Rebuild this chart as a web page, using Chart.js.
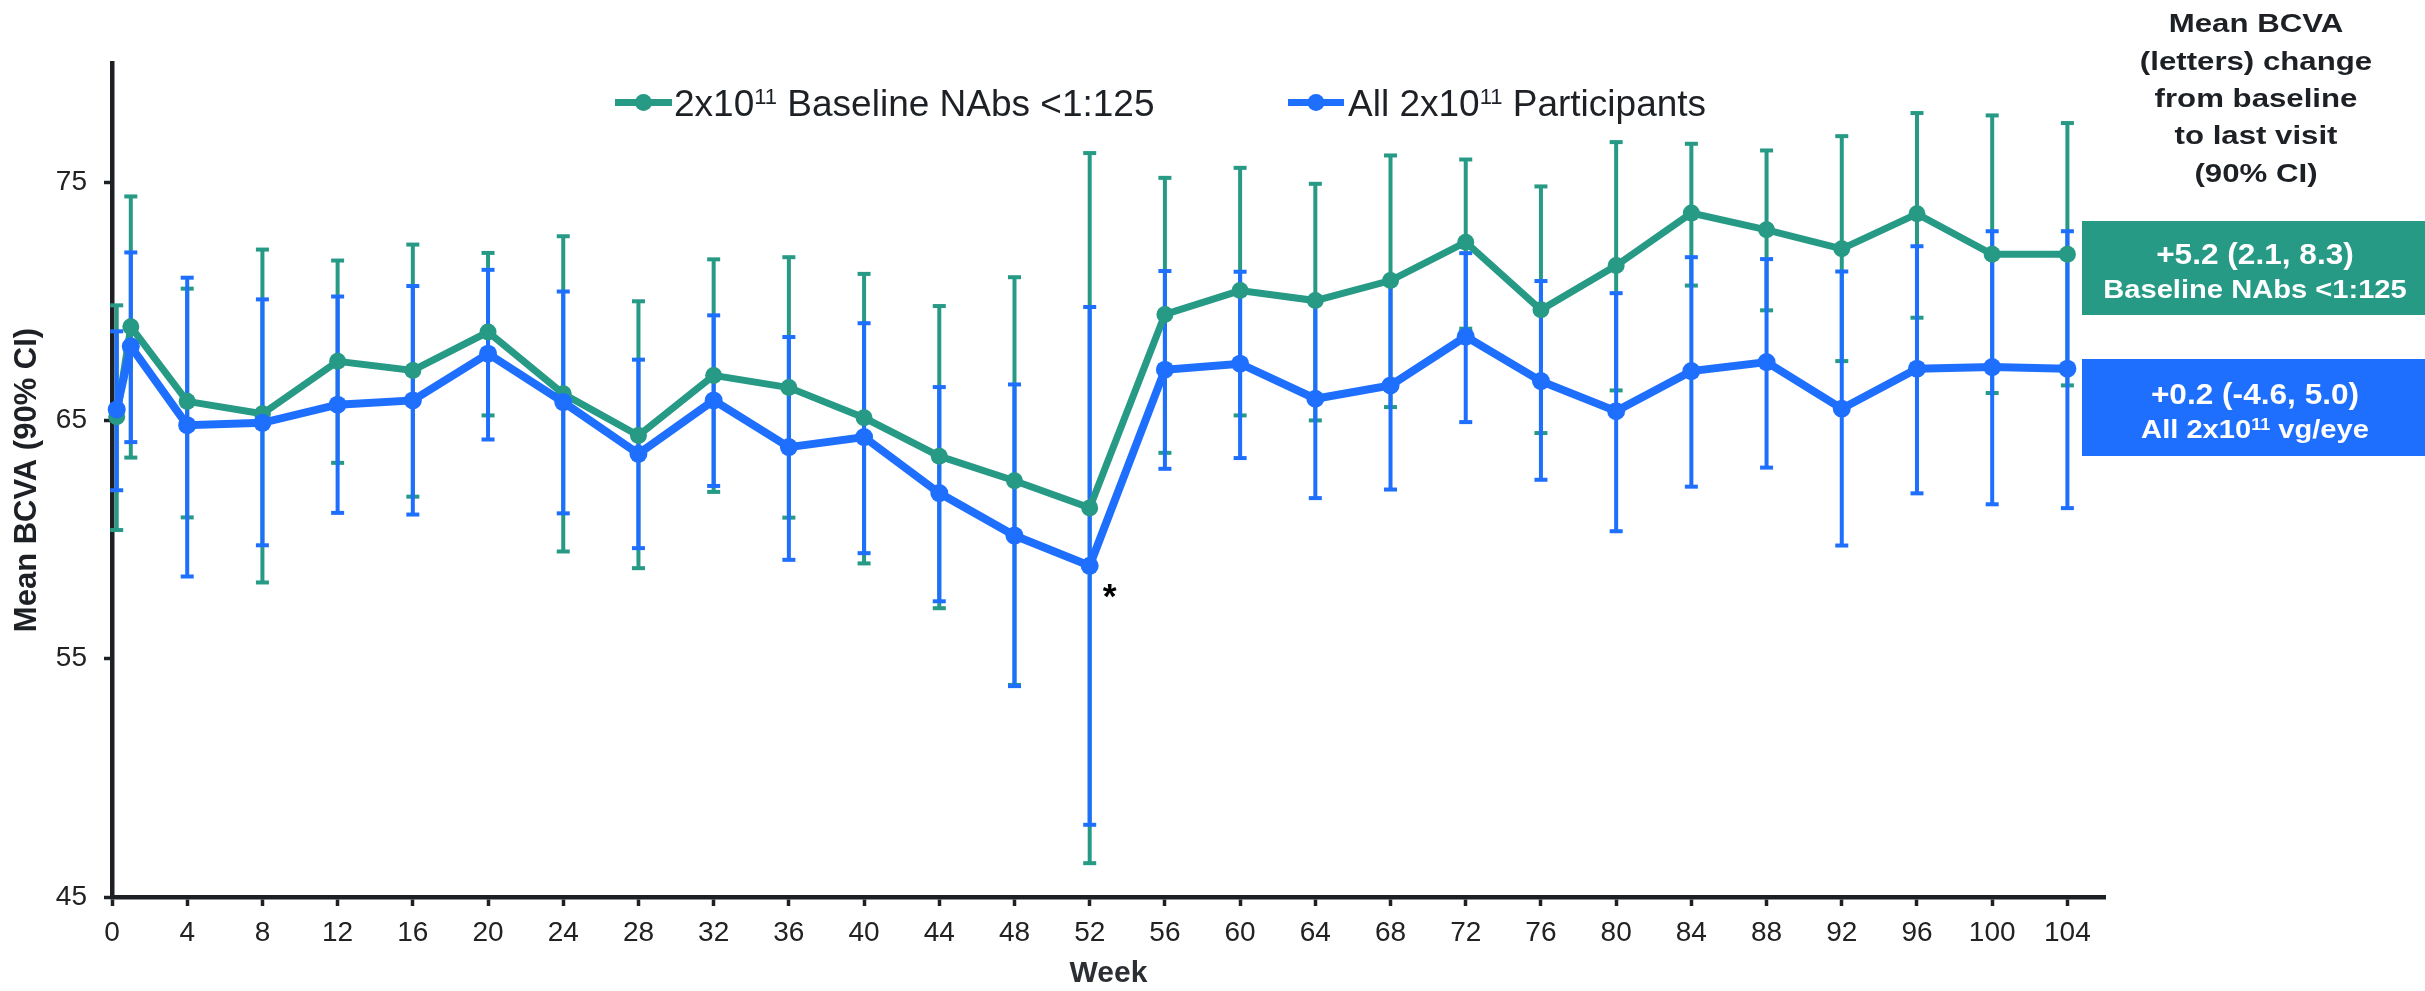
<!DOCTYPE html>
<html>
<head>
<meta charset="utf-8">
<script src="https://cdn.jsdelivr.net/npm/chart.js@4.4.1/dist/chart.umd.min.js"></script>
<style>
html,body{margin:0;padding:0;background:#ffffff;}
#c{display:block;}
</style>
</head>
<body>
<canvas id="c" width="2425" height="991"></canvas>
<script>
// ---------- data ----------
const weeks = [0.25, 1, 4, 8, 12, 16, 20, 24, 28, 32, 36, 40, 44, 48, 52, 56, 60, 64, 68, 72, 76, 80, 84, 88, 92, 96, 100, 104];

const greenMean = [65.15, 68.93, 65.8, 65.28, 67.48, 67.1, 68.71, 66.12, 64.37, 66.89, 66.38, 65.11, 63.5, 62.47, 61.33, 69.45, 70.45, 70.03, 70.87, 72.48, 69.64, 71.5, 73.7, 73.0, 72.2, 73.67, 71.97, 71.97];
const greenLow  = [60.4, 63.44, 60.93, 58.2, 63.22, 61.8, 65.21, 59.5, 58.8, 62.0, 60.92, 59.0, 57.12, 53.9, 46.42, 63.64, 65.21, 65.0, 65.56, 68.85, 64.47, 66.26, 70.66, 69.62, 67.49, 69.31, 66.15, 66.47];
const greenHigh = [69.83, 74.4, 70.53, 72.17, 71.71, 72.38, 72.03, 72.73, 70.0, 71.76, 71.85, 71.15, 69.8, 71.01, 76.22, 75.18, 75.6, 74.93, 76.12, 75.95, 74.82, 76.68, 76.61, 76.33, 76.93, 77.9, 77.8, 77.48];

const blueMean = [65.46, 68.11, 64.8, 64.9, 65.66, 65.84, 67.8, 65.77, 63.6, 65.84, 63.88, 64.3, 61.95, 60.17, 58.9, 67.13, 67.38, 65.91, 66.47, 68.52, 66.65, 65.39, 67.07, 67.45, 65.49, 67.17, 67.24, 67.17];
const blueLow  = [62.07, 64.09, 58.45, 59.76, 61.12, 61.05, 64.2, 61.1, 59.64, 62.25, 59.15, 59.43, 57.41, 53.85, 48.03, 62.97, 63.42, 61.74, 62.1, 64.93, 62.51, 60.35, 62.22, 63.02, 59.75, 61.94, 61.48, 61.32];
const blueHigh = [68.74, 72.05, 70.99, 70.08, 70.2, 70.64, 71.32, 70.41, 67.55, 69.41, 68.5, 69.08, 66.4, 66.51, 69.76, 71.27, 71.24, 70.08, 70.84, 72.02, 70.85, 70.34, 71.85, 71.77, 71.25, 72.31, 72.94, 72.94];

const xTickValues = [0, 4, 8, 12, 16, 20, 24, 28, 32, 36, 40, 44, 48, 52, 56, 60, 64, 68, 72, 76, 80, 84, 88, 92, 96, 100, 104];
const yTickValues = [45, 55, 65, 75];

const greenLabelParts = ['2x10', '11', ' Baseline NAbs <1:125'];
const blueLabelParts = ['All 2x10', '11', ' Participants'];
const sideTitle = ['Mean BCVA', '(letters) change', 'from baseline', 'to last visit', '(90% CI)'];
const greenBox = ['+5.2 (2.1, 8.3)', 'Baseline NAbs <1:125'];
const blueBox = ['+0.2 (-4.6, 5.0)', 'All 2x10', '11', ' vg/eye'];
const starWeek = 52;

// ---------- styles ----------
const GREEN = '#279A86';
const BLUE = '#1F6FFF';
const INK = '#1d2126';
const FAM = '"Liberation Sans", Arial, Helvetica, sans-serif';

Chart.defaults.font.family = FAM;
Chart.defaults.color = INK;

function drawRich(ctx, parts, x, baseline, align, scaleX, color) {
  ctx.save();
  let total = 0;
  parts.forEach(p => { ctx.font = p.font; p.w = ctx.measureText(p.text).width; total += p.w; });
  const start = align === 'center' ? x - total * scaleX / 2 : x;
  ctx.translate(start, baseline);
  ctx.scale(scaleX, 1);
  ctx.fillStyle = color;
  ctx.textAlign = 'left';
  ctx.textBaseline = 'alphabetic';
  let cx = 0;
  parts.forEach(p => { ctx.font = p.font; ctx.fillText(p.text, cx, p.dy || 0); cx += p.w; });
  ctx.restore();
}

const errorBars = {
  id: 'errorBars',
  beforeDatasetsDraw(chart) {
    const {ctx, scales: {x, y}} = chart;
    const series = [
      {low: greenLow, high: greenHigh, color: GREEN},
      {low: blueLow, high: blueHigh, color: BLUE}
    ];
    ctx.save();
    series.forEach(s => {
      ctx.strokeStyle = s.color;
      ctx.fillStyle = s.color;
      ctx.lineWidth = 4;
      weeks.forEach((w, i) => {
        const px = x.getPixelForValue(w);
        const y1 = y.getPixelForValue(s.low[i]);
        const y2 = y.getPixelForValue(s.high[i]);
        ctx.beginPath();
        ctx.moveTo(px, y1);
        ctx.lineTo(px, y2);
        ctx.stroke();
        ctx.fillRect(px - 6.5, y1 - 2, 13, 4);
        ctx.fillRect(px - 6.5, y2 - 2, 13, 4);
      });
    });
    ctx.restore();
  }
};

const annotations = {
  id: 'annotations',
  afterDraw(chart) {
    const {ctx, scales: {x, y}} = chart;
    ctx.save();
    // legend
    const legendItems = [
      {parts: greenLabelParts, color: GREEN, x0: 615, x1: 672, tx: 674},
      {parts: blueLabelParts, color: BLUE, x0: 1288, x1: 1344, tx: 1348}
    ];
    legendItems.forEach(it => {
      const ly = 102.5;
      ctx.strokeStyle = it.color;
      ctx.lineWidth = 7;
      ctx.beginPath(); ctx.moveTo(it.x0, ly); ctx.lineTo(it.x1, ly); ctx.stroke();
      ctx.fillStyle = it.color;
      ctx.beginPath(); ctx.arc((it.x0 + it.x1) / 2, ly, 8.5, 0, Math.PI * 2); ctx.fill();
      drawRich(ctx, [
        {text: it.parts[0], font: '37px ' + FAM},
        {text: it.parts[1], font: '22px ' + FAM, dy: -12.2},
        {text: it.parts[2], font: '37px ' + FAM}
      ], it.tx, 115.7, 'left', 1, INK);
    });

    // side title
    const baselines = [32.3, 69.6, 106.9, 144.2, 181.5];
    sideTitle.forEach((t, i) => {
      drawRich(ctx, [{text: t, font: 'bold 26px ' + FAM}], 2256, baselines[i], 'center', 1.2, INK);
    });

    // boxes
    ctx.fillStyle = GREEN;
    ctx.fillRect(2082, 221, 343, 94);
    ctx.fillStyle = BLUE;
    ctx.fillRect(2082, 359, 343, 97);
    drawRich(ctx, [{text: greenBox[0], font: 'bold 29px ' + FAM}], 2255, 264, 'center', 1.09, '#ffffff');
    drawRich(ctx, [{text: greenBox[1], font: 'bold 26px ' + FAM}], 2255, 297.7, 'center', 1.12, '#ffffff');
    drawRich(ctx, [{text: blueBox[0], font: 'bold 29px ' + FAM}], 2255, 404, 'center', 1.09, '#ffffff');
    drawRich(ctx, [
      {text: blueBox[1], font: 'bold 26px ' + FAM},
      {text: blueBox[2], font: 'bold 16px ' + FAM, dy: -7.5},
      {text: blueBox[3], font: 'bold 26px ' + FAM}
    ], 2255, 437.7, 'center', 1.12, '#ffffff');

    // asterisk next to week 52 point
    const idx = weeks.indexOf(starWeek);
    const sx = x.getPixelForValue(starWeek) + 20;
    const sy = y.getPixelForValue(blueMean[idx]) + 25;
    ctx.font = 'bold 100px ' + FAM;
    const m = ctx.measureText('*');
    const h100 = m.actualBoundingBoxAscent + m.actualBoundingBoxDescent;
    const fs = 13.5 / h100 * 100;
    ctx.font = 'bold ' + fs.toFixed(1) + 'px ' + FAM;
    const m2 = ctx.measureText('*');
    ctx.fillStyle = '#000000';
    ctx.textAlign = 'center';
    ctx.textBaseline = 'alphabetic';
    ctx.fillText('*', sx, sy + (m2.actualBoundingBoxAscent - m2.actualBoundingBoxDescent) / 2);
    ctx.restore();
  }
};

new Chart(document.getElementById('c'), {
  type: 'line',
  data: {
    datasets: [
      {
        label: 'All 2x10^11 Participants',
        data: weeks.map((w, i) => ({x: w, y: blueMean[i]})),
        borderColor: BLUE,
        backgroundColor: BLUE,
        pointBackgroundColor: BLUE,
        borderWidth: 8,
        pointRadius: 9,
        pointBorderWidth: 0,
        pointHoverRadius: 9,
        tension: 0,
        clip: false,
        order: 1
      },
      {
        label: '2x10^11 Baseline NAbs <1:125',
        data: weeks.map((w, i) => ({x: w, y: greenMean[i]})),
        borderColor: GREEN,
        backgroundColor: GREEN,
        pointBackgroundColor: GREEN,
        borderWidth: 7,
        pointRadius: 8.5,
        pointBorderWidth: 0,
        pointHoverRadius: 8.5,
        tension: 0,
        clip: false,
        order: 2
      }
    ]
  },
  options: {
    responsive: false,
    devicePixelRatio: 1,
    animation: false,
    events: [],
    layout: {padding: {left: 0, top: 63, right: 320, bottom: 0}},
    plugins: {
      legend: {display: false},
      tooltip: {enabled: false},
      title: {display: false}
    },
    scales: {
      x: {
        type: 'linear',
        min: 0,
        max: 106,
        afterBuildTicks: s => { s.ticks = xTickValues.map(v => ({value: v})); },
        afterFit: s => { s.height = 94; },
        ticks: {
          font: {size: 28, family: FAM},
          color: '#222222',
          padding: 10,
          maxRotation: 0,
          autoSkip: false,
          callback: v => String(v)
        },
        grid: {
          display: true,
          drawOnChartArea: false,
          drawTicks: true,
          tickLength: 9,
          tickWidth: 3.5,
          tickColor: INK,
          color: INK
        },
        border: {display: true, color: INK, width: 4.5},
        title: {
          display: true,
          text: 'Week',
          font: {size: 30, weight: 'bold', family: FAM, lineHeight: 1.13},
          color: '#2b2f33',
          padding: {top: 0, bottom: 0}
        }
      },
      y: {
        type: 'linear',
        min: 45,
        max: 80,
        afterBuildTicks: s => { s.ticks = yTickValues.map(v => ({value: v})); },
        afterFit: s => { s.width = 112; },
        ticks: {
          font: {size: 28, family: FAM},
          color: '#222222',
          padding: 17,
          callback: v => String(v)
        },
        grid: {
          display: true,
          drawOnChartArea: false,
          drawTicks: true,
          tickLength: 8,
          tickWidth: 3.5,
          tickColor: INK,
          color: INK
        },
        border: {display: true, color: INK, width: 4.5},
        title: {
          display: true,
          text: 'Mean BCVA (90% CI)',
          font: {size: 31, weight: 'bold', family: FAM},
          color: INK,
          padding: {top: 9, bottom: 0}
        }
      }
    }
  },
  plugins: [errorBars, annotations]
});
</script>
</body>
</html>
